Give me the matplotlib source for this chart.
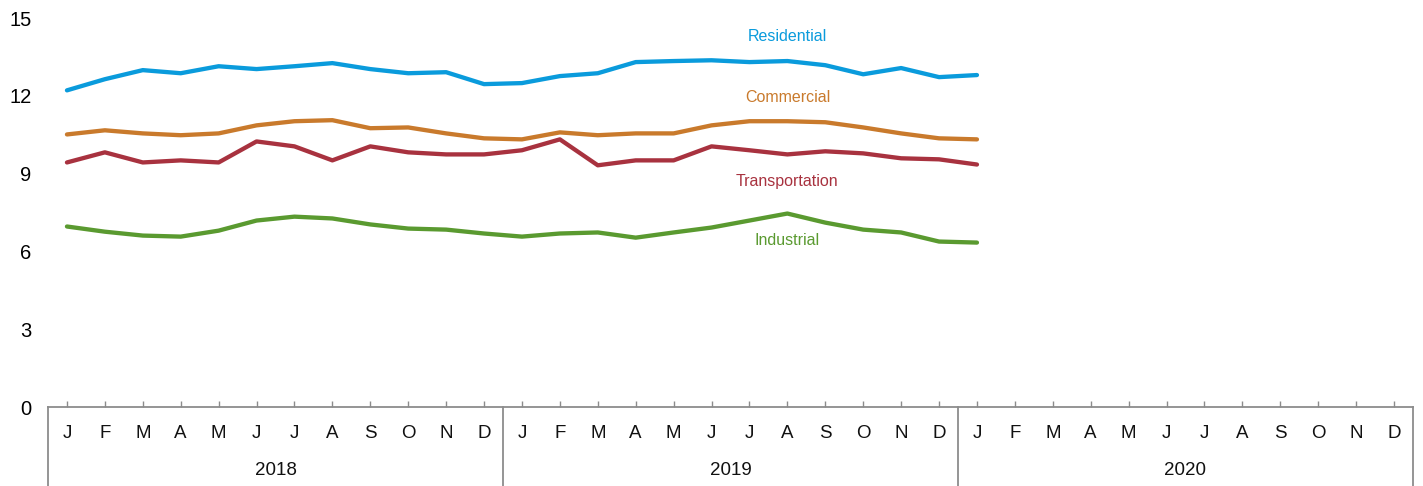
import matplotlib
matplotlib.use("Agg")
import matplotlib.pyplot as plt

plt.rcParams['font.family'] = ['Liberation Sans', 'DejaVu Sans']

months = ["J", "F", "M", "A", "M", "J", "J", "A", "S", "O", "N", "D"]
years = ["2018", "2019", "2020"]

residential = [12.21, 12.64, 12.99, 12.87, 13.14, 13.03, 13.14, 13.26, 13.03, 12.87, 12.91, 12.45,
               12.49, 12.76, 12.87, 13.30, 13.34, 13.37, 13.30, 13.34, 13.18, 12.83, 13.07, 12.72,
               12.80]
commercial = [10.51, 10.67, 10.55, 10.48, 10.55, 10.86, 11.02, 11.06, 10.75, 10.78, 10.55, 10.36,
              10.32, 10.59, 10.48, 10.55, 10.55, 10.86, 11.02, 11.02, 10.98, 10.78, 10.55, 10.36,
              10.32]
transportation = [9.43, 9.82, 9.43, 9.51, 9.43, 10.24, 10.05, 9.51, 10.05, 9.82, 9.74, 9.74,
                  9.90, 10.32, 9.32, 9.51, 9.51, 10.05, 9.90, 9.74, 9.86, 9.78, 9.59, 9.55,
                  9.35]
industrial = [6.96, 6.76, 6.61, 6.57, 6.80, 7.19, 7.34, 7.27, 7.04, 6.88, 6.84, 6.69,
              6.57, 6.69, 6.73, 6.53, 6.73, 6.92, 7.19, 7.46, 7.11, 6.84, 6.73, 6.38,
              6.34]

series = [
    ("Residential", residential, "#0A9BDC", 14.3),
    ("Commercial", commercial, "#C97A2C", 11.94),
    ("Transportation", transportation, "#A8323F", 8.70),
    ("Industrial", industrial, "#5A9A30", 6.42),
]
label_x = 19

W, H = 1423, 486
fig = plt.figure(figsize=(W / 100, H / 100), dpi=100)
ax = fig.add_axes([48 / W, (H - 407) / H, (1413 - 48) / W, (407 - 18) / H])

for name, vals, color, ly in series:
    ax.plot(range(len(vals)), vals, color=color, lw=3.1, solid_capstyle='round',
            solid_joinstyle='round', zorder=3)
    ax.text(label_x, ly, name, color=color, fontsize=11.5, ha='center', va='center')

n = 12 * len(years)
ax.set_xlim(-0.5, n - 0.5)
ax.set_ylim(0, 15)
ax.set_yticks([0, 3, 6, 9, 12, 15])
ax.tick_params(axis='y', length=0, labelsize=14.5, pad=12)

for s in ["top", "right", "left"]:
    ax.spines[s].set_visible(False)
ax.spines["bottom"].set_color("#8c8c8c")
ax.spines["bottom"].set_linewidth(1.3)

ax.set_xticks(range(n))
ax.set_xticklabels([])
ax.tick_params(axis='x', direction='in', length=4, width=1, color='#8c8c8c')

trans = ax.get_xaxis_transform()
axh = 407 - 18
for i in range(n):
    ax.text(i, -26 / axh, months[i % 12], transform=trans, ha='center', va='center',
            fontsize=13.5, color='#111111')
for k, yr in enumerate(years):
    ax.text(12 * k + 5.5, -63 / axh, yr, transform=trans, ha='center', va='center',
            fontsize=13.5, color='#111111')
for k in range(len(years) + 1):
    ax.plot([12 * k - 0.5, 12 * k - 0.5], [0, -79 / axh], transform=trans, color='#8c8c8c',
            lw=1.3, clip_on=False)

fig.savefig("out.png", dpi=100)
